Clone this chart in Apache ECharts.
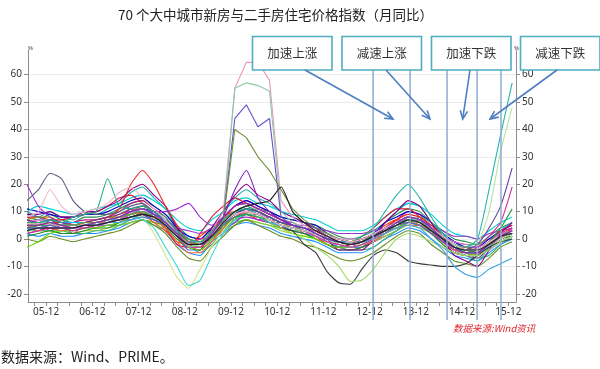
<!DOCTYPE html>
<html><head><meta charset="utf-8">
<script src="https://cdn.jsdelivr.net/npm/echarts@6/dist/echarts.min.js"></script>
<style>html,body{margin:0;padding:0;background:#fff}#c{width:600px;height:369px}</style>
</head><body><div id="c"></div>
<script>
// ---- data ----
const months = ['2005-07','2005-10','2006-01','2006-04','2006-07','2006-10','2007-01','2007-04','2007-07','2007-10','2008-01','2008-04','2008-07','2008-10','2009-01','2009-04','2009-07','2009-10','2010-01','2010-04','2010-07','2010-10','2011-01','2011-04','2011-07','2011-10','2012-01','2012-04','2012-07','2012-10','2013-01','2013-04','2013-07','2013-10','2014-01','2014-04','2014-07','2014-10','2015-01','2015-04','2015-07','2015-10','2016-01'];
const xTickLabels = ['05-12','06-12','07-12','08-12','09-12','10-12','11-12','12-12','13-12','14-12','15-12'];
const yTickValues = [-20,-10,0,10,20,30,40,50,60];
const phaseLineMonths = [96.9, 106.5, 116.1, 123.9, 130.1];
const phaseLabels = ['加速上涨','减速上涨','加速下跌','减速下跌'];

const b01 = [8,7,9,7,6,8,8,9,11,13,14,12,9,5,1,0,4,8,12,13,11,10,8,7,6,5,3,1,0,1,3,6,9,11,10,6,3,0,-1,-2,1,4,6];
const b02 = [2,1,2,1,1,2,2,3,4,6,7,5,3,-2,-5,-6,-1,2,5,6,5,4,2,1,0,-1,-3,-5,-5,-5,-3,0,2,4,3,0,-3,-6,-7,-8,-5,-2,0];
const b03 = [7,6,7,5,6,7,7,8,10,13,14,11,8,2,-3,-3,2,7,12,14,12,10,7,6,4,3,0,-3,-4,-3,0,4,7,10,9,4,0,-4,-6,-7,-3,1,4];
const b04 = [4,4,4,3,3,4,4,5,5,6,7,6,5,2,0,-1,2,4,6,7,6,5,4,3,3,2,1,0,-1,0,1,3,4,5,5,3,1,-1,-2,-2,0,2,3];
const b05 = [6,5,5,5,4,4,5,5,6,8,9,9,7,4,0,-2,0,3,6,9,9,8,6,5,4,3,1,-1,-2,-2,-1,1,3,6,7,5,2,-1,-3,-5,-4,-1,1];
const b06 = [5,5,4,4,5,5,6,7,9,10,9,6,3,-1,-2,1,4,8,10,9,7,6,4,3,2,0,-2,-3,-2,0,2,5,7,7,5,2,-1,-4,-5,-4,-1,2,4];
const b07 = [9,8,10,8,7,9,9,11,13,17,19,15,11,4,-2,-3,4,10,15,18,15,13,10,8,6,4,1,-2,-3,-2,1,6,10,13,12,6,1,-4,-6,-8,-3,3,6];
const b08 = [3,3,3,2,2,3,3,4,5,6,7,5,4,1,-2,-3,1,3,5,7,6,5,3,2,1,1,-1,-2,-3,-3,-1,1,3,5,4,2,-1,-3,-4,-5,-3,0,1];
const b09 = [11,10,9,8,8,9,9,10,12,14,15,12,9,4,1,0,4,8,12,14,12,10,8,7,6,5,2,0,-1,0,2,6,8,10,9,6,2,-1,-3,-3,0,3,5];
const b10 = [4,6,3,5,2,5,4,8,7,11,9,8,4,3,-2,0,1,6,7,11,7,8,4,5,2,3,-1,-1,-3,-1,1,2,6,6,7,2,1,-4,-3,-6,-1,0,4];
const b11 = [10,12,11,10,9,10,11,12,13,15,16,14,11,7,4,3,7,10,14,15,13,12,10,9,8,7,5,3,3,3,5,8,11,13,12,9,5,2,1,0,3,6,8];
const b12 = [0,-1,1,0,-1,0,1,2,3,5,7,5,2,-3,-7,-8,-3,1,5,7,5,3,1,0,-2,-3,-5,-7,-8,-7,-5,-2,1,3,2,-2,-5,-8,-9,-10,-7,-3,-1];
const b13 = [5,6,5,5,5,5,6,6,7,7,8,7,6,4,3,2,4,5,7,8,7,6,6,5,5,4,3,2,2,2,3,4,5,6,6,4,3,1,1,0,2,3,4];
const b14 = [8,8,7,7,8,9,10,12,15,16,13,9,4,-2,-3,2,8,12,15,13,11,9,7,5,3,1,-2,-3,-2,1,4,8,11,11,8,3,-1,-5,-6,-5,-1,3,5];
const b15 = [4,3,3,3,2,2,3,3,5,7,9,10,8,3,-2,-5,-2,3,7,10,11,9,7,5,3,2,0,-3,-4,-4,-3,0,3,6,8,6,2,-2,-5,-7,-6,-2,1];
const b16 = [2,3,5,4,3,4,5,7,8,9,11,10,6,1,-4,-4,0,5,9,11,9,7,5,3,2,1,-1,-3,-3,-3,-1,2,5,8,7,4,0,-4,-6,-6,-3,0,2];
const b17 = [6,7,6,6,5,6,6,6,7,8,9,7,5,2,-1,-1,2,6,9,10,9,8,6,5,4,3,2,0,0,0,1,3,5,6,6,4,1,-1,-2,-3,-1,2,3];
const b18 = [1,2,3,2,2,3,4,4,6,8,9,7,4,0,-3,-4,0,4,7,9,8,6,4,3,2,0,-2,-4,-4,-3,-1,2,4,6,5,2,-2,-5,-6,-6,-3,0,1];
const b19 = [7,8,8,6,5,6,7,8,8,10,12,10,7,3,0,-1,3,7,10,12,10,8,6,4,3,2,0,-1,-1,-1,1,4,6,8,7,4,1,-2,-3,-4,-2,1,2];
const b20 = [3,5,6,6,6,6,5,6,7,9,10,9,6,2,-2,-2,1,5,8,10,9,7,5,4,3,1,-1,-2,-3,-2,0,3,5,7,6,3,0,-3,-4,-5,-2,0,2];
const b21 = [9,9,10,8,8,10,10,12,14,18,20,16,12,4,-3,-4,4,10,16,20,16,14,10,8,6,4,0,-4,-4,-4,0,6,10,14,12,6,0,-6,-8,-10,-4,2,6];
const b22 = [-3,-1,2,3,3,4,4,5,6,8,9,7,5,1,-3,-4,0,4,7,9,8,6,4,2,1,0,-2,-3,-3,-2,0,2,4,6,5,2,-1,-4,-5,-6,-3,0,2];
const b23 = [5,3,4,3,4,5,6,6,7,8,9,7,4,-1,-5,-5,-1,4,8,10,9,7,5,4,3,2,1,-1,-2,-2,-1,2,4,5,5,3,0,-3,-5,-5,-3,0,2];
const b24 = [10,8,6,5,4,5,5,6,8,10,11,9,6,2,-2,-2,2,6,9,11,10,8,6,5,4,3,1,-1,-1,-1,1,3,5,7,6,4,1,-2,-4,-4,-2,1,3];

const s01 = [4,5,6,6,5,6,7,8,11,20,25,20,12,5,-1,-2,3,8,12,13,11,9,7,5,4,3,1,-1,-2,-1,1,4,7,9,8,5,1,-3,-5,-5,-2,1,3];
const s02 = [14,18,24,22,14,10,9,9,10,12,13,10,7,2,-2,-2,2,6,9,11,10,8,6,5,4,2,0,-1,-2,-1,1,4,6,8,7,4,1,-3,-5,-5,-3,0,2];
const s03 = [20,12,8,6,5,6,6,7,8,10,11,10,10,11,13,8,5,8,12,13,11,9,7,5,4,2,0,-1,-2,-2,0,3,6,8,7,4,0,-3,-5,-5,-3,0,2];
const s04 = [6,5,5,5,4,5,6,7,8,9,8,2,-6,-14,-18,-11,-3,3,8,10,9,7,5,4,3,1,-1,-2,-3,-2,0,3,5,7,6,3,-1,-4,-6,-6,-3,0,2];
const s05 = [4,4,5,4,4,5,5,6,7,8,7,4,-3,-10,-17,-15,-6,2,7,9,8,6,5,4,3,2,0,-2,-3,-2,0,3,5,7,7,4,0,-3,-5,-5,-3,-1,1];
const s06 = [3,4,4,4,4,5,5,6,7,8,9,8,5,1,-2,-2,1,5,8,9,8,6,4,3,-2,-5,-12,-16,-16.5,-11,-6,-4,-5,-8,-9,-9.5,-10,-10,-9,-6,-3,-1,0];
const s07 = [5,6,6,5,5,5,6,7,8,9,10,8,5,1,-2,-1,2,6,9,10,9,6,4,2,0,-3,-6,-10,-15.5,-15,-11,-5,0,2,1,-1,-3,-5,-6,-6,-4,-1,1];
const s08 = [3,4,4,4,4,5,5,6,6,7,8,7,5,2,-1,-1,2,5,8,9,8,6,5,4,3,2,0,-1,-2,-1,0,2,4,5,4,0,-4,-10,-13,-14,-11,-9,-7];
const s09 = [6,6,6,5,5,6,6,7,8,10,11,9,6,2,-2,-2,2,6,10,12,10,8,6,5,4,2,0,-1,-1,1,4,10,16,20,15,8,2,-2,-3,0,18,38,57];
const s10 = [5,5,5,4,4,5,5,6,7,9,10,8,6,2,-1,-2,2,5,8,10,8,7,5,4,3,2,0,-2,-2,-2,0,3,5,7,6,3,0,-3,-4,-2,10,32,48];
const s11 = [7,6,7,6,5,6,7,8,9,11,12,10,7,3,-1,-2,2,6,9,11,10,8,6,5,4,3,1,0,-1,0,1,4,6,8,7,4,0,-3,-4,-2,4,12,26];
const s12 = [2,3,4,4,3,4,5,6,7,9,10,8,5,1,-3,-3,1,5,8,10,9,7,5,4,3,1,-1,-2,-3,-2,0,3,5,7,6,3,-1,-4,-5,-3,1,6,19];
const s13 = [4,5,5,5,5,6,6,7,8,9,10,8,6,2,-2,-2,2,5,8,9,8,7,5,4,3,2,0,-1,-2,-1,1,3,5,7,6,3,0,-3,-5,-4,-1,4,11];
const s14 = [5,6,5,5,4,5,6,7,8,10,11,9,6,2,-2,-2,3,10,55,64.5,64.5,58,14,8,5,3,1,-1,-2,-1,1,3,5,7,6,3,0,-3,-4,-4,-2,1,3];
const s15 = [6,6,6,5,5,6,6,7,8,9,10,8,5,1,-3,-2,2,7,55,57,56,54,10,6,4,2,0,-1,-2,-1,1,3,5,7,6,3,0,-3,-4,-4,-2,1,3];
const s16 = [4,4,5,4,4,5,5,6,7,8,9,7,5,1,-2,-2,2,7,44,49,41,44,8,5,4,2,0,-1,-2,-1,1,3,5,6,5,2,-1,-3,-4,-4,-2,1,2];
const s17 = [5,5,6,5,5,6,6,7,8,9,10,8,6,2,-1,-2,2,7,40,37,30,25,18,11,7,4,2,0,-1,0,1,3,5,7,6,3,0,-3,-4,-4,-2,1,3];
const s18 = [6,6,7,6,8,9,10,22,12,11,12,10,7,3,0,-1,3,7,10,11,9,7,5,4,3,2,0,-1,-2,-1,1,3,5,7,6,3,0,-3,-4,-4,-2,1,2];
const s19 = [8,10,18,12,9,10,11,13,17,19,15,11,7,2,-2,-2,2,6,9,10,9,7,5,4,3,2,1,0,-1,0,2,4,6,8,7,4,1,-2,-4,-4,-1,1,3];
const s20 = [5,5,6,5,4,5,6,7,8,10,11,9,6,2,-2,-2,2,8,18,25,15,10,7,5,4,2,0,-1,-2,-1,1,3,6,8,7,4,0,-3,-5,-5,-2,1,3];
const s21 = [3,4,4,4,4,5,5,6,7,8,9,8,5,1,-2,-2,1,6,10,12,13,14,19,10,6,3,1,-1,-2,-1,1,3,5,7,6,3,0,-3,-4,-4,-2,1,2];

const bandSeries = [b01,b02,b03,b04,b05,b06,b07,b08,b09,b10,b11,b12,b13,b14,b15,b16,b17,b18,b19,b20,b21,b22,b23,b24];
const specialSeries = [s01,s02,s03,s04,s05,s06,s07,s08,s09,s10,s11,s12,s13,s14,s15,s16,s17,s18,s19,s20,s21];

// ---- styles ----
const bandColors = ['#2e8b57','#1e90ff','#c71585','#32cd32','#8a2be2','#ff4500','#20b2aa','#9acd32','#0000cd','#ff1493','#00ced1','#6b8e23','#9932cc','#dc143c','#3cb371','#4169e1','#da70d6','#228b22','#b8860b','#00bfff','#8b008b','#66dd00','#ff6347','#4682b4'];
const specialColors = ['#e8262a','#56607e','#9b30d0','#d8e28a','#3fd6d6','#3a3a3a','#a5d96a','#3aa6dd','#26b5a8','#b5e3a0','#6a3d9a','#d42a9e','#2aa048','#e99ab8','#8fcaa6','#6650cf','#6f8f3a','#1fae8a','#f2b6c6','#7e22b8','#1f1f1f'];
const sharpSpecial = [13,14,15,16];

function monthIndex(s){ const p = s.split('-').map(Number); return (p[0]-2005)*12 + p[1]; }
function labelIndex(s){ const p = s.split('-').map(Number); return (p[0]-5)*12 + p[1]; }
const xs = months.map(monthIndex);
const labelVals = xTickLabels.map(labelIndex);
const labelMap = {}; xTickLabels.forEach((l,i)=>{ labelMap[labelVals[i]] = l; });
const quarterTicks = []; for (let m = 9; m <= 133; m += 3) quarterTicks.push(m);

const series = [];
bandSeries.forEach((arr,i)=>series.push({
  type:'line', data: arr.map((v,j)=>[xs[j], v]), showSymbol:false, symbol:'none',
  smooth:0.2, lineStyle:{width:1.1, color: bandColors[i % bandColors.length]}, silent:true, z:2
}));
specialSeries.forEach((arr,i)=>series.push({
  type:'line', data: arr.map((v,j)=>[xs[j], v]), showSymbol:false, symbol:'none',
  smooth: sharpSpecial.includes(i) ? false : 0.2,
  lineStyle:{width:1.1, color: specialColors[i]}, silent:true, z:3
}));

const axisGray = '#8c8c8c';
const yAxisBase = (pos) => ({
  type:'value', min:-23, max:69, position:pos,
  axisLine:{show:true, onZero:false, lineStyle:{color:axisGray}},
  axisTick:{show:true, customValues:yTickValues, length:4, lineStyle:{color:axisGray}},
  axisLabel:{customValues:yTickValues, color:'#333', fontSize:10, fontFamily:'Noto Sans', margin:6},
  splitLine:{show: pos==='left', lineStyle:{color:'#ebebeb', width:1}}
});

const chart = echarts.init(document.getElementById('c'), null, {renderer:'canvas'});
chart.setOption({
  animation:false,
  backgroundColor:'#fff',
  title:{text:'70 个大中城市新房与二手房住宅价格指数（月同比）', left:113, top:3,
    textStyle:{fontSize:13.5, fontWeight:'normal', color:'#222', fontFamily:'Noto Sans CJK SC'}},
  grid:{left:28, right:84, top:50, bottom:67, containLabel:false},
  xAxis:{type:'value', min:7.3, max:134,
    axisLine:{show:true, onZero:false, lineStyle:{color:axisGray}},
    axisTick:{show:true, customValues:quarterTicks, length:4, lineStyle:{color:axisGray}},
    axisLabel:{customValues:labelVals, formatter:(v)=>labelMap[v]||'', color:'#333', fontSize:10, fontFamily:'Noto Sans', margin:5},
    splitLine:{show:false}},
  yAxis:[yAxisBase('left'), yAxisBase('right')],
  series: series
});

// ---- annotations ----
const g = [];
const phaseX = phaseLineMonths.map(m => chart.convertToPixel({xAxisIndex:0}, m));
phaseX.forEach(x => g.push({type:'line', shape:{x1:x, y1:70, x2:x, y2:320}, style:{stroke:'#8fabd0', lineWidth:1.5}, z:100}));

const boxes = [[252.5,36.5],[342,36.5],[431.5,36.5],[520.5,36.5]];
boxes.forEach((b,i)=>{
  g.push({type:'rect', shape:{x:b[0], y:b[1], width:79.5, height:33.5}, style:{fill:'#fff', stroke:'#4fadc0', lineWidth:1.6}, z:101});
  g.push({type:'text', x:b[0]+39.75, y:b[1]+16.75, style:{text:phaseLabels[i], fill:'#333', font:"12.5px 'Noto Sans CJK SC'", align:'center', verticalAlign:'middle', textAlign:'center', textVerticalAlign:'middle'}, z:102});
});

const arrows = [[305,70,393,119],[386,70,430,119],[470,70,462.7,119],[557,70,490,119]];
arrows.forEach(a=>{
  const [x1,y1,x2,y2] = a; const ang = Math.atan2(y2-y1, x2-x1); const L = 9, w = 0.42;
  g.push({type:'line', shape:{x1,y1,x2,y2}, style:{stroke:'#4f7fc0', lineWidth:1.6}, z:103});
  g.push({type:'polyline', shape:{points:[[x2-L*Math.cos(ang-w), y2-L*Math.sin(ang-w)],[x2,y2],[x2-L*Math.cos(ang+w), y2-L*Math.sin(ang+w)]]}, style:{stroke:'#4f7fc0', lineWidth:1.6, fill:null}, z:103});
});

g.push({type:'text', x:28, y:45, style:{text:'%', fill:'#444', font:"6px 'Noto Sans'"}, z:104});
g.push({type:'text', x:514, y:45, style:{text:'%', fill:'#444', font:"6px 'Noto Sans'"}, z:104});
g.push({type:'text', x:453, y:324, style:{text:'数据来源:Wind资讯', fill:'#e0252c', font:"italic 9.5px 'Noto Sans CJK SC'"}, z:104});
g.push({type:'text', x:1, y:350, style:{text:'数据来源：Wind、PRIME。', fill:'#222', font:"14px 'Noto Sans CJK SC'"}, z:104});

chart.setOption({graphic:{elements:g}});
</script>
</body></html>
